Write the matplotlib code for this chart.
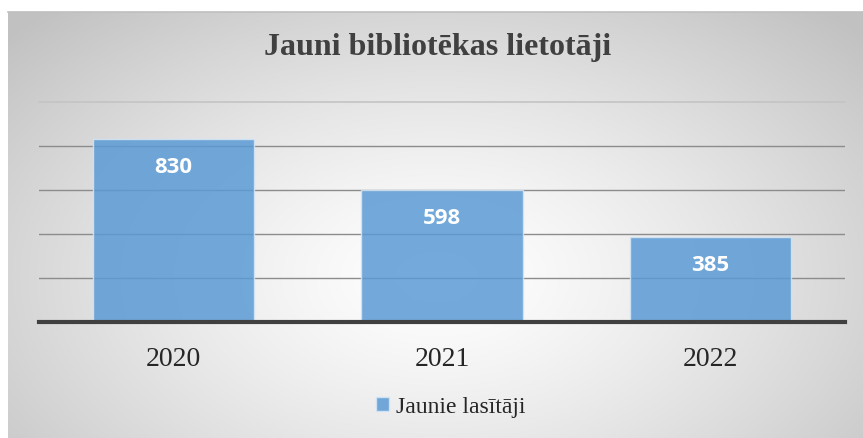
import numpy as np
import matplotlib
matplotlib.use("Agg")
import matplotlib.pyplot as plt

categories = ["2020", "2021", "2022"]
values = [830, 598, 385]
series_name = "Jaunie lasītāji"
title = "Jauni bibliotēkas lietotāji"

W, H = 863, 438
fig = plt.figure(figsize=(W / 100, H / 100), dpi=100)

# background with radial gradient (chart area)
bx0, by0, bx1, by1 = 8, 12, 863, 438
bg = fig.add_axes([bx0 / W, 1 - by1 / H, (bx1 - bx0) / W, (by1 - by0) / H])
ny, nx = 200, 400
yy, xx = np.mgrid[0:ny, 0:nx]
cx, cy = nx * 0.5, ny * 0.62
r = np.sqrt(((xx - cx) / (nx * 0.5)) ** 2 + ((yy - cy) / (ny * 0.62)) ** 2)
r = np.clip(r / 1.35, 0, 1)
val = 1.0 - 0.24 * r ** 1.3
img = np.dstack([val, val, val])
bg.imshow(img, aspect="auto", extent=[0, 1, 0, 1], interpolation="bilinear")
bg.set_axis_off()
fig.add_artist(plt.Line2D([bx0 / W, 1], [1 - by0 / H, 1 - by0 / H], color="#bfbfbf", lw=1.2))

# plot area
px0, px1 = 39, 845
py_top, py_base = 102, 322
ax = fig.add_axes([px0 / W, 1 - py_base / H, (px1 - px0) / W, (py_base - py_top) / H])
ax.patch.set_alpha(0)
x = np.arange(len(categories))
bars = ax.bar(x, values, width=0.6, color="#5b9bd5", alpha=0.85,
              edgecolor="#d6e6f5", linewidth=1.0, zorder=3, label=series_name)
ax.set_xlim(-0.5, len(categories) - 0.5)
ax.set_ylim(0, 1000)
ax.set_yticks([200, 400, 600, 800])
ax.yaxis.grid(True, color="#8c8c8c", lw=1.0, zorder=1)
ax.axhline(1000, color="#c4c4c4", lw=1.2, zorder=1, clip_on=False)
ax.set_axisbelow(True)
ax.tick_params(axis="y", length=0, labelleft=False)
ax.tick_params(axis="x", length=0, pad=18)
ax.set_xticks(x)
ax.set_xticklabels(categories, family="Liberation Serif", fontsize=20, color="#262626")
for s in ["top", "right", "left"]:
    ax.spines[s].set_visible(False)
ax.spines["bottom"].set_color("#404040")
ax.spines["bottom"].set_linewidth(3)
ax.spines["bottom"].set_zorder(5)

for xi, v in zip(x, values):
    ax.annotate(str(v), (xi, v), xytext=(0, -20.5), textcoords="offset points",
                ha="center", va="center", color="white", fontsize=16,
                fontweight="bold", family="Open Sans", zorder=6)

fig.text(438 / W, 1 - 47 / H, title, ha="center", va="center",
         family="Liberation Serif", fontweight="bold", fontsize=23, color="#404040")

leg = fig.legend(handles=[bars], labels=[series_name], loc="center",
                 bbox_to_anchor=(451 / W, 1 - 407 / H), frameon=False,
                 prop={"family": "Liberation Serif", "size": 17},
                 handlelength=0.55, handleheight=0.55, handletextpad=0.3)
for t in leg.get_texts():
    t.set_color("#262626")

fig.savefig("out.png", dpi=100)
